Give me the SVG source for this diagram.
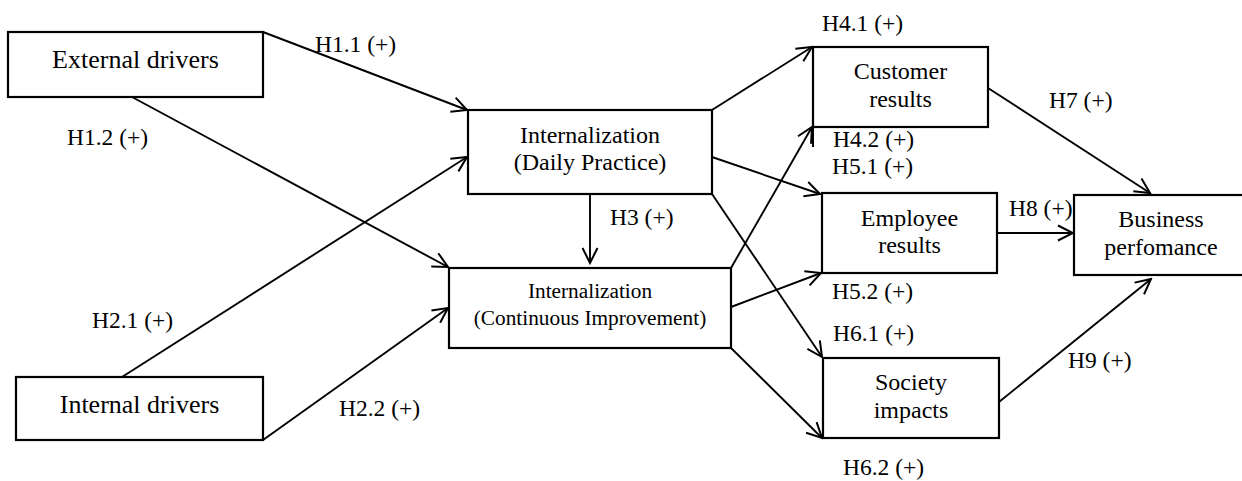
<svg xmlns="http://www.w3.org/2000/svg" width="1242" height="481" viewBox="0 0 1242 481">
<style>
.box{fill:#fff;stroke:#000;stroke-width:2.2}
.t{font-family:"Liberation Serif","Times New Roman",serif;fill:#000;text-anchor:middle}
.lbl{font-family:"Liberation Serif","Times New Roman",serif;fill:#000;font-size:23.5px}
.c{fill:none;stroke:#000;stroke-width:1.9;marker-end:url(#arr)}
</style>
<defs>
<marker id="arr" markerUnits="userSpaceOnUse" viewBox="-17 -9 19 18" markerWidth="19" markerHeight="18" refX="0" refY="0" orient="auto">
<path d="M-15,-7.5 L0,0 L-15,7.5" fill="none" stroke="#000" stroke-width="2"/>
</marker>
</defs>
<rect width="1242" height="481" fill="#fff"/>
<g id="connectors">
<line class="c" x1="263" y1="32" x2="467" y2="110"/>
<line class="c" x1="132" y1="97" x2="448" y2="267"/>
<line class="c" x1="122" y1="377" x2="467" y2="157"/>
<line class="c" x1="263" y1="440" x2="448" y2="308"/>
<line class="c" x1="590" y1="194" x2="590" y2="263"/>
<line class="c" x1="712" y1="110" x2="812" y2="47"/>
<line class="c" x1="731" y1="268" x2="812" y2="127"/>
<line class="c" x1="712" y1="157" x2="820" y2="194"/>
<line class="c" x1="731" y1="307" x2="821" y2="273"/>
<line class="c" x1="712" y1="194" x2="822" y2="357"/>
<line class="c" x1="731" y1="348" x2="822" y2="438"/>
<line class="c" x1="988" y1="88" x2="1150" y2="193"/>
<line class="c" x1="997" y1="233" x2="1073" y2="233"/>
<line class="c" x1="999" y1="402" x2="1151" y2="279"/>
</g>
<g id="external">
<rect class="box" x="8" y="32" width="255" height="65"/>
<text class="t" x="135.5" y="68" font-size="26">External drivers</text>
</g>
<g id="internal">
<rect class="box" x="16" y="377" width="247" height="63"/>
<text class="t" x="139.5" y="413" font-size="26">Internal drivers</text>
</g>
<g id="daily">
<rect class="box" x="468" y="110" width="244" height="84"/>
<text class="t" x="590" y="143" font-size="24">Internalization</text>
<text class="t" x="590" y="170" font-size="24">(Daily Practice)</text>
</g>
<g id="continuous">
<rect class="box" x="449" y="268" width="282" height="80"/>
<text class="t" x="590" y="298" font-size="21.3">Internalization</text>
<text class="t" x="590" y="325" font-size="21.3">(Continuous Improvement)</text>
</g>
<g id="customer">
<rect class="box" x="813" y="47" width="175" height="80"/>
<line x1="813" y1="127" x2="813" y2="147" stroke="#000" stroke-width="2"/>
<text class="t" x="900.5" y="79" font-size="24">Customer</text>
<text class="t" x="900.5" y="107" font-size="24">results</text>
</g>
<g id="employee">
<rect class="box" x="822" y="193" width="175" height="80"/>
<text class="t" x="909.5" y="226" font-size="24">Employee</text>
<text class="t" x="909.5" y="253" font-size="24">results</text>
</g>
<g id="society">
<rect class="box" x="823" y="358" width="176" height="80"/>
<text class="t" x="911" y="390" font-size="24">Society</text>
<text class="t" x="911" y="418" font-size="24">impacts</text>
</g>
<g id="business">
<rect class="box" x="1074" y="195" width="180" height="80"/>
<text class="t" x="1161" y="227" font-size="24">Business</text>
<text class="t" x="1161" y="255" font-size="24">perfomance</text>
</g>
<g id="labels">
<text class="lbl" x="315" y="52">H1.1 (+)</text>
<text class="lbl" x="67" y="145">H1.2 (+)</text>
<text class="lbl" x="92" y="328">H2.1 (+)</text>
<text class="lbl" x="339" y="416">H2.2 (+)</text>
<text class="lbl" x="610" y="225">H3 (+)</text>
<text class="lbl" x="822" y="31">H4.1 (+)</text>
<text class="lbl" x="833" y="147">H4.2 (+)</text>
<text class="lbl" x="832" y="174">H5.1 (+)</text>
<text class="lbl" x="832" y="299">H5.2 (+)</text>
<text class="lbl" x="833" y="341">H6.1 (+)</text>
<text class="lbl" x="843" y="475">H6.2 (+)</text>
<text class="lbl" x="1049" y="108">H7 (+)</text>
<text class="lbl" x="1009" y="216">H8 (+)</text>
<text class="lbl" x="1068" y="368">H9 (+)</text>
</g>
</svg>
